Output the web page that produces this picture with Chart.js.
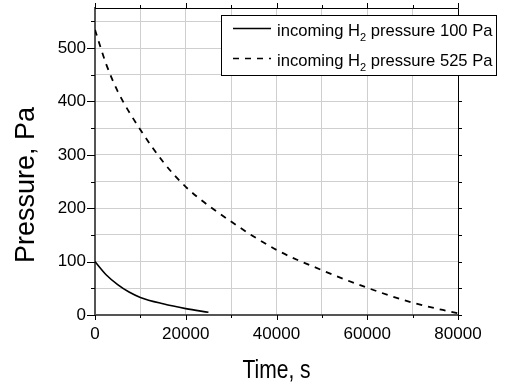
<!DOCTYPE html>
<html>
<head>
<meta charset="utf-8">
<script src="https://cdn.jsdelivr.net/npm/chart.js@4/dist/chart.umd.min.js"></script>
<style>
  body { margin: 0; background: #fff; }
</style>
</head>
<body>
<canvas id="grafico" width="510" height="385"></canvas>
<script>
// dados
const tempoBaixa = [0, 2500, 5000, 7500, 10000, 15000, 20000, 25000];
const pressaoBaixa = [100, 75, 57, 43, 33, 21, 12, 5];
const tempoAlta = [0, 2500, 5000, 10000, 15000, 20000, 30000, 40000, 50000, 60000, 70000, 80000];
const pressaoAlta = [534, 469, 419, 347, 287, 240, 175, 122, 84, 51, 23, 3];
const rotulos = ['incoming H2 pressure 100 Pa', 'incoming H2 pressure 525 Pa'];
const tituloX = 'Time, s';
const tituloY = 'Pressure, Pa';

const fonte = "'Liberation Sans', Arial, sans-serif";

// moldura superior/direita e marcas dos eixos
const moldura = {
    id: 'moldura',
    afterDraw(chart) {
        const ctx = chart.ctx;
        const a = chart.chartArea;
        const x = chart.scales.x, y = chart.scales.y;
        ctx.save();
        ctx.strokeStyle = '#000';
        ctx.lineWidth = 1;
        ctx.beginPath();
        ctx.moveTo(a.left, a.top + 0.5);
        ctx.lineTo(a.right + 0.5, a.top + 0.5);
        ctx.lineTo(a.right + 0.5, a.bottom);
        ctx.stroke();

        ctx.beginPath();
        x.ticks.forEach(t => {
            const px = Math.round(x.getPixelForValue(t.value)) + 0.5;
            const len = t.value % 20000 === 0 ? 5 : 3;
            ctx.moveTo(px, a.bottom); ctx.lineTo(px, a.bottom + len);
            ctx.moveTo(px, a.top); ctx.lineTo(px, a.top - len);
        });
        y.ticks.forEach(t => {
            const py = Math.round(y.getPixelForValue(t.value)) + 0.5;
            const len = t.value % 100 === 0 ? 8 : 4;
            ctx.moveTo(a.left, py); ctx.lineTo(a.left - len, py);
            ctx.moveTo(a.right, py); ctx.lineTo(a.right + 4, py);
        });
        ctx.stroke();

        // títulos dos eixos
        ctx.fillStyle = '#000';
        ctx.font = '26px ' + fonte;
        ctx.textAlign = 'center';
        ctx.textBaseline = 'alphabetic';
        ctx.save();
        ctx.translate((a.left + a.right) / 2, 378);
        ctx.scale(0.81, 1);
        ctx.fillText(tituloX, 0, 0);
        ctx.restore();

        ctx.save();
        ctx.font = '27px ' + fonte;
        ctx.translate(34, 185);
        ctx.rotate(-Math.PI / 2);
        ctx.fillText(tituloY, 0, 0);
        ctx.restore();
        ctx.restore();
    }
};

// legenda desenhada à mão (caixa sai da área do gráfico)
const legenda = {
    id: 'legenda',
    afterDraw(chart) {
        const ctx = chart.ctx;
        const caixa = { left: 221.5, top: 15.5, width: 275, height: 60 };
        ctx.save();
        ctx.fillStyle = '#fff';
        ctx.fillRect(caixa.left, caixa.top, caixa.width, caixa.height);
        ctx.strokeStyle = '#000';
        ctx.lineWidth = 1;
        ctx.strokeRect(caixa.left, caixa.top, caixa.width, caixa.height);

        chart.data.datasets.forEach((ds, i) => {
            const yLinha = 28.5 + i * 30;
            ctx.beginPath();
            ctx.lineWidth = 1.5;
            ctx.setLineDash(ds.borderDash || []);
            ctx.moveTo(233, yLinha);
            ctx.lineTo(271, yLinha);
            ctx.stroke();
            ctx.setLineDash([]);

            const base = 36 + i * 30;
            const partes = ds.label.split('H2');
            let px = 277;
            ctx.fillStyle = '#000';
            ctx.textAlign = 'left';
            ctx.textBaseline = 'alphabetic';
            ctx.font = '16.6px ' + fonte;
            ctx.fillText(partes[0] + 'H', px, base);
            px += ctx.measureText(partes[0] + 'H').width;
            ctx.font = '11px ' + fonte;
            ctx.fillText('2', px, base + 5);
            px += ctx.measureText('2').width;
            ctx.font = '16.6px ' + fonte;
            ctx.fillText(partes[1], px, base);
        });
        ctx.restore();
    }
};

const config = {
    type: 'line',
    data: {
        datasets: [{
            label: rotulos[0],
            data: tempoBaixa.map((t, i) => ({ x: t, y: pressaoBaixa[i] })),
            borderColor: '#000',
            borderWidth: 1.6,
            pointRadius: 0,
            cubicInterpolationMode: 'monotone'
        }, {
            label: rotulos[1],
            data: tempoAlta.map((t, i) => ({ x: t, y: pressaoAlta[i] })),
            borderColor: '#000',
            borderWidth: 1.8,
            borderDash: [6, 6],
            pointRadius: 0,
            cubicInterpolationMode: 'monotone'
        }]
    },
    options: {
        responsive: false,
        animation: false,
        layout: { padding: { top: 8, right: 52, left: 0, bottom: 0 } },
        plugins: { legend: { display: false }, tooltip: { enabled: false } },
        scales: {
            x: {
                type: 'linear',
                min: 0,
                max: 80000,
                ticks: {
                    stepSize: 10000,
                    autoSkip: false,
                    maxRotation: 0,
                    padding: 9,
                    color: '#000',
                    font: { family: fonte, size: 17 },
                    callback: v => v % 20000 === 0 ? String(v) : ''
                },
                grid: { color: '#cfcfcf', drawTicks: false },
                border: { color: '#555', width: 2 },
                afterFit: s => { s.height = 70; s.paddingLeft = 0; s.paddingRight = 0; }
            },
            y: {
                min: 0,
                max: 575,
                ticks: {
                    stepSize: 50,
                    includeBounds: false,
                    autoSkip: false,
                    padding: 9,
                    color: '#000',
                    font: { family: fonte, size: 17 },
                    callback: v => v % 100 === 0 ? String(v) : ''
                },
                grid: { color: '#cfcfcf', drawTicks: false },
                border: { color: '#555', width: 2 },
                afterFit: s => { s.width = 95; s.paddingTop = 0; s.paddingBottom = 0; }
            }
        }
    },
    plugins: [moldura, legenda]
};

new Chart(document.getElementById('grafico'), config);
</script>
</body>
</html>
